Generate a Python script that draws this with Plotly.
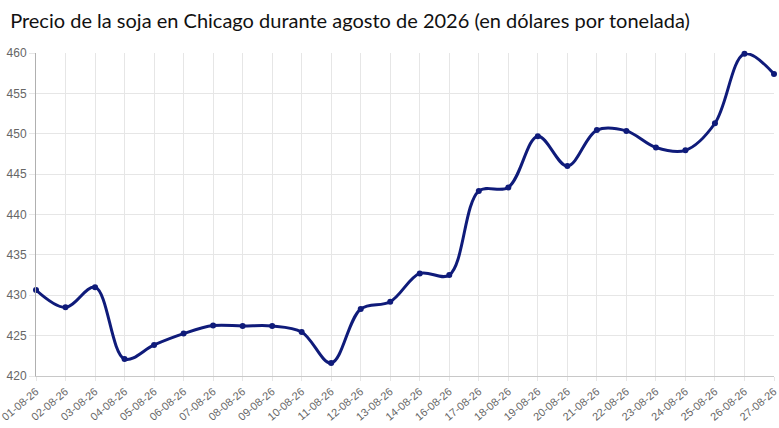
import plotly.graph_objects as go

# soybean price, Chicago, August 2026 (USD per tonne) -- no 15-08 point
fechas = ['01-08-26', '02-08-26', '03-08-26', '04-08-26', '05-08-26', '06-08-26',
          '07-08-26', '08-08-26', '09-08-26', '10-08-26', '11-08-26', '12-08-26',
          '13-08-26', '14-08-26', '16-08-26', '17-08-26', '18-08-26', '19-08-26',
          '20-08-26', '21-08-26', '22-08-26', '23-08-26', '24-08-26', '25-08-26',
          '26-08-26', '27-08-26']
precios = [430.65, 428.5, 431.0, 422.1, 423.85, 425.25,
           426.24, 426.2, 426.2, 425.45, 421.6, 428.3,
           429.2, 432.7, 432.5, 442.9, 443.35, 449.7,
           446.0, 450.45, 450.35, 448.3, 447.95, 451.3,
           459.9, 457.4]
y_ticks = [420, 425, 430, 435, 440, 445, 450, 455, 460]

navy = '#0f1b7a'

fig = go.Figure()
fig.add_trace(go.Scatter(
    x=fechas,
    y=precios,
    mode='lines+markers',
    line=dict(color=navy, width=3, shape='spline', smoothing=1),
    marker=dict(color=navy, size=6),
    cliponaxis=False,
    showlegend=False
))

fig.update_layout(
    width=779, height=428,
    margin=dict(l=36, r=5, t=53, b=52),
    paper_bgcolor='white',
    plot_bgcolor='white',
    title=dict(
        text='Precio de la soja en Chicago durante agosto de 2026 (en dólares por tonelada)',
        x=0.013, xanchor='left', y=0.968, yanchor='top',
        font=dict(family='Lato', size=20, color='#111111')
    )
)
fig.update_xaxes(
    type='category',
    range=[0, len(fechas) - 1],
    automargin=False,
    showgrid=True, gridcolor='#e6e6e6', gridwidth=1,
    showline=True, linecolor='#c8c8c8', linewidth=1,
    ticks='outside', ticklen=4, tickcolor='#e6e6e6',
    tickangle=-40,
    tickfont=dict(family='Liberation Sans', size=11, color='#666666')
)
fig.update_yaxes(
    range=[420, 460],
    tickvals=y_ticks,
    automargin=False,
    showgrid=True, gridcolor='#e6e6e6', gridwidth=1,
    showline=True, linecolor='#b0b0b0', linewidth=1,
    ticks='outside', ticklen=6, tickcolor='#e6e6e6',
    zeroline=False,
    tickfont=dict(family='Liberation Sans', size=12, color='#666666')
)

# drop the default 8px body margin so the figure sits flush in the window
fig.write_html('out.html', config={'displayModeBar': False},
               post_script="document.body.style.margin='0';")
